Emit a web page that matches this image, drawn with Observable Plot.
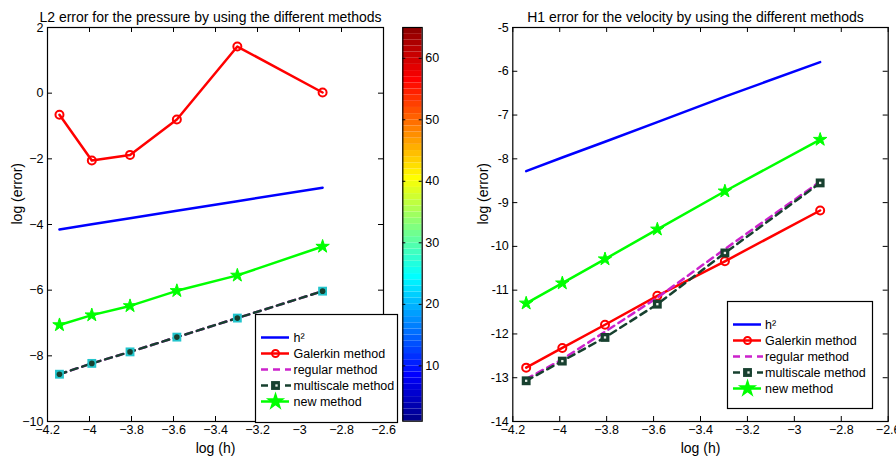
<!DOCTYPE html>
<html><head><meta charset="utf-8">
<script src="https://cdn.jsdelivr.net/npm/d3@7"></script>
<script src="https://cdn.jsdelivr.net/npm/@observablehq/plot@0.6"></script>
<style>
body{margin:0;background:#fff;}
#wrap{position:relative;width:896px;height:466px;overflow:hidden;background:#fff}
#wrap > svg{position:absolute;overflow:visible}
</style></head><body><div id="wrap"></div>
<script>
// ---------- data ----------
const logH = [-4.143, -3.989, -3.807, -3.584, -3.296, -2.890];
const xTicks = [-4.2, -4, -3.8, -3.6, -3.4, -3.2, -3, -2.8, -2.6];
const methods = ["h\u00B2", "Galerkin method", "regular method", "multiscale method", "new method"];

// left panel: L2 error for the pressure
const leftYTicks = [-10, -8, -6, -4, -2, 0, 2];
const L_h2  = [-4.15, -3.99, -3.81, -3.58, -3.29, -2.88];
const L_gal = [-0.66, -2.05, -1.88, -0.80, 1.42, 0.02];
const L_reg = [-8.56, -8.23, -7.88, -7.43, -6.85, -6.03];
const L_ms  = [-8.56, -8.23, -7.88, -7.43, -6.85, -6.03];
const L_new = [-7.06, -6.76, -6.48, -6.02, -5.55, -4.67];

// right panel: H1 error for the velocity
const rightYTicks = [-14, -13, -12, -11, -10, -9, -8, -7, -6, -5];
const R_h2  = [-8.28, -7.97, -7.61, -7.16, -6.58, -5.79];
const R_gal = [-12.77, -12.32, -11.79, -11.13, -10.34, -9.18];
const R_reg = [-13.03, -12.58, -11.95, -11.17, -10.06, -8.52];
const R_ms  = [-13.07, -12.62, -12.08, -11.32, -10.15, -8.55];
const R_new = [-11.30, -10.84, -10.29, -9.61, -8.74, -7.56];

// colorbar
const cbTicks = [10, 20, 30, 40, 50, 60];
const cbDomain = [1, 65];
const jetStops = [1, 8, 24, 40, 56, 64];
const jetColors = ["#000090", "#0000ff", "#00ffff", "#ffff00", "#ff0000", "#900000"];

// ---------- styles ----------
const FONT = "'Liberation Sans', Arial, Helvetica, sans-serif";
const C = {h2: "#0000ff", gal: "#ff0000", reg: "#cc22cc", ms: "#17402f", nw: "#00ff00"};
const H = 466, mTop = 27, mBottom = 45;
const minus = d => (d < 0 ? "\u2212" : "") + Math.abs(d);
const hyph = d => String(d);
const rows = ys => logH.map((x, i) => ({x, y: ys[i]}));

function panel(cfg) {
  const pw = cfg.width - cfg.ml - cfg.mr, ph = H - mTop - mBottom;
  const s = cfg.series;
  const svg = Plot.plot({
    width: cfg.width, height: H,
    marginLeft: cfg.ml, marginRight: cfg.mr, marginTop: mTop, marginBottom: mBottom,
    style: {fontFamily: FONT, fontSize: "12.5px", color: "#000", background: "transparent", overflow: "visible"},
    x: {domain: [-4.2, -2.6]},
    y: {domain: cfg.yDomain},
    marks: [
      Plot.tickX(xTicks, {x: d => d, insetTop: ph - 5, stroke: "#000"}),
      Plot.tickX(xTicks, {x: d => d, insetBottom: ph - 5, stroke: "#000"}),
      Plot.tickY(cfg.yTicks, {y: d => d, insetRight: pw - 5, stroke: "#000"}),
      Plot.tickY(cfg.yTicks, {y: d => d, insetLeft: pw - 5, stroke: "#000"}),
      Plot.axisX(xTicks, {tickSize: 0, tickPadding: 4, tickFormat: minus, label: null, fontSize: 12.5}),
      Plot.axisY(cfg.yTicks, {tickSize: 0, tickPadding: 4, tickFormat: cfg.yFmt, label: null, fontSize: 12.5}),
      // h^2
      Plot.line(rows(s.h2), {x: "x", y: "y", stroke: C.h2, strokeWidth: 2.5}),
      // Galerkin
      Plot.line(rows(s.gal), {x: "x", y: "y", stroke: C.gal, strokeWidth: 2.5}),
      Plot.dot(rows(s.gal), {x: "x", y: "y", r: 4, stroke: C.gal, strokeWidth: 2, fill: "none"}),
      // regular
      Plot.line(rows(s.reg), {x: "x", y: "y", stroke: C.reg, strokeWidth: 2.5, strokeDasharray: "7,5"}),
      // multiscale
      Plot.line(rows(s.ms), {x: "x", y: "y", stroke: C.ms, strokeWidth: 2.5, strokeDasharray: "7,5"}),
      Plot.dot(rows(s.ms), {x: "x", y: "y", symbol: "square", r: 5, fill: cfg.sqFill, stroke: "none"}),
      Plot.dot(rows(s.ms), {x: "x", y: "y", symbol: cfg.sqInnerSymbol, r: cfg.sqInnerR, fill: cfg.sqInner, stroke: "none"}),
      // new method
      Plot.line(rows(s.nw), {x: "x", y: "y", stroke: C.nw, strokeWidth: 2.5}),
      Plot.dot(rows(s.nw), {x: "x", y: "y", symbol: "star", r: 4.2, fill: C.nw, stroke: C.nw, strokeWidth: 1}),
      Plot.frame({stroke: "#000", strokeWidth: 1.2}),
      Plot.text([cfg.title], {frameAnchor: "top", dy: -15.5, dx: -5, fontSize: 14}),
      Plot.text(["log (h)"], {frameAnchor: "bottom", dy: 31, fontSize: 14}),
      Plot.text(["log (error)"], {frameAnchor: "left", dx: cfg.ylabDx, rotate: -90, fontSize: 14})
    ]
  });
  svg.style.left = cfg.left + "px";
  svg.style.top = "0px";
  return svg;
}

function legend(cfg) {
  const ms = methods;
  const svg = Plot.plot({
    width: cfg.w, height: cfg.h, margin: 0,
    style: {fontFamily: FONT, fontSize: "12.5px", color: "#000", background: "#fff", overflow: "visible"},
    x: {type: "identity", axis: null},
    y: {type: "point", domain: ms, range: cfg.yRange, axis: null},
    marks: [
      Plot.frame({stroke: "#000", strokeWidth: 1.2, fill: "#fff"}),
      Plot.ruleY([ms[0]], {y: d => d, x1: 6, x2: 34, stroke: C.h2, strokeWidth: 2.5}),
      Plot.ruleY([ms[1]], {y: d => d, x1: 6, x2: 34, stroke: C.gal, strokeWidth: 2.5}),
      Plot.dot([ms[1]], {y: d => d, x: 20, r: 3.5, stroke: C.gal, strokeWidth: 2, fill: "none"}),
      Plot.ruleY([ms[2]], {y: d => d, x1: 6, x2: 36, stroke: C.reg, strokeWidth: 2.5, strokeDasharray: "7,5"}),
      Plot.ruleY([ms[3]], {y: d => d, x1: 6, x2: 36, stroke: C.ms, strokeWidth: 2.5, strokeDasharray: "7,5"}),
      Plot.dot([ms[3]], {y: d => d, x: 20, symbol: "square", r: 5, fill: C.ms, stroke: "none"}),
      Plot.dot([ms[3]], {y: d => d, x: 21, symbol: "square", r: 1.3, fill: "#e8eee8", stroke: "none"}),
      Plot.ruleY([ms[4]], {y: d => d, x1: 6, x2: 34, stroke: C.nw, strokeWidth: 2.5}),
      Plot.dot([ms[4]], {y: d => d, x: 20, symbol: "star", r: 4.6, fill: C.nw, stroke: C.nw}),
      Plot.text(ms, {y: d => d, x: cfg.tx, text: d => d, textAnchor: "start", fontSize: 12.5})
    ]
  });
  svg.style.left = cfg.left + "px";
  svg.style.top = cfg.top + "px";
  return svg;
}

function colorbar() {
  const w = 60, ml = 7.3, barW = 19.4;
  const svg = Plot.plot({
    width: w, height: H,
    marginLeft: ml, marginRight: w - ml - barW, marginTop: mTop, marginBottom: 45.3,
    style: {fontFamily: FONT, fontSize: "12.5px", color: "#000", background: "transparent", overflow: "visible"},
    y: {domain: cbDomain},
    color: {type: "linear", domain: jetStops, range: jetColors, interpolate: "rgb"},
    marks: [
      Plot.rect(d3.range(cbDomain[0], cbDomain[1]), {y1: d => d, y2: d => d + 1, fill: d => d}),
      Plot.tickY(cbTicks, {y: d => d, insetLeft: barW - 3, stroke: "#000"}),
      Plot.tickY(cbTicks, {y: d => d, insetRight: barW - 3, stroke: "#000"}),
      Plot.axisY(cbTicks, {anchor: "right", tickSize: 0, tickPadding: 3, label: null, fontSize: 12.5}),
      Plot.frame({stroke: "#000", strokeWidth: 1.2})
    ]
  });
  svg.style.left = "395px";
  svg.style.top = "0px";
  return svg;
}

const wrap = document.getElementById("wrap");
wrap.appendChild(panel({
  left: 0, width: 450, ml: 47, mr: 67, yDomain: [-10, 2], yTicks: leftYTicks, yFmt: minus,
  title: "L2 error for the pressure by using the different methods", ylabDx: -30,
  series: {h2: L_h2, gal: L_gal, reg: L_reg, ms: L_ms, nw: L_new},
  sqFill: "#22c4cc", sqInner: C.ms, sqInnerSymbol: "circle", sqInnerR: 2.8
}));
wrap.appendChild(panel({
  left: 450, width: 446, ml: 62.3, mr: 8.3, yDomain: [-14, -5], yTicks: rightYTicks, yFmt: hyph,
  title: "H1 error for the velocity by using the different methods", ylabDx: -29,
  series: {h2: R_h2, gal: R_gal, reg: R_reg, ms: R_ms, nw: R_new},
  sqFill: C.ms, sqInner: "#e8eee8", sqInnerSymbol: "square", sqInnerR: 1.3
}));
wrap.appendChild(colorbar());
wrap.appendChild(legend({left: 255, top: 314, w: 142, h: 108, yRange: [14, 96], tx: 38}));
wrap.appendChild(legend({left: 727, top: 301, w: 145, h: 107, yRange: [15, 95], tx: 37.5}));
</script></body></html>
